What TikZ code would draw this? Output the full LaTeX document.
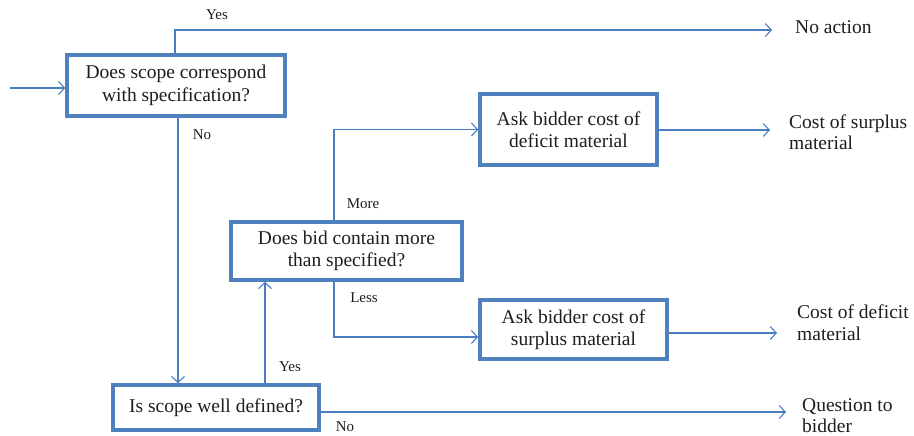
\documentclass[tikz,border=0pt]{standalone}
\usepackage{fontspec}
\setmainfont{Liberation Serif}
\usetikzlibrary{arrows.meta}
\definecolor{boxblue}{HTML}{4F81BD}
\definecolor{lineblue}{HTML}{4A7EC0}
\definecolor{ink}{HTML}{1E1E1E}
\begin{document}
\begin{tikzpicture}[x=1pt,y=-1pt,
  decision/.style={draw=boxblue,line width=3.6pt,fill=white,rectangle,
    inner sep=0pt,align=center,text=ink,
    font=\fontsize{19.5}{22.5}\selectfont},
  flow/.style={draw=lineblue,line width=1.1pt,
    -{Straight Barb[length=6pt,width=13pt,line width=1.1pt]}},
  tag/.style={text=ink,font=\fontsize{15}{17}\selectfont,inner sep=0pt},
  outcome/.style={text=ink,font=\fontsize{19.5}{21.5}\selectfont,
    align=left,anchor=west,inner sep=0pt}]
\useasboundingbox (0,0) rectangle (914,436);

% decision boxes
\node[decision,minimum width=218pt,minimum height=61pt] (scope) at (176,85.5)
  {Does scope correspond\\with specification?};
\node[decision,minimum width=206pt,minimum height=45pt] (defined) at (216,407.5)
  {Is scope well defined?};
\node[decision,minimum width=231pt,minimum height=58pt] (bid) at (346.5,251)
  {Does bid contain more\\than specified?};
\node[decision,minimum width=177pt,minimum height=71pt] (deficit) at (568.5,129.5)
  {Ask bidder cost of\\deficit material};
\node[decision,minimum width=187pt,minimum height=59pt] (surplus) at (573.5,329.5)
  {Ask bidder cost of\\surplus material};

% outcomes
\node[outcome] (noaction) at (795,27) {No action};
\node[outcome] (costsur) at (789,132) {Cost of surplus\\material};
\node[outcome] (costdef) at (797,322.5) {Cost of deficit\\material};
\node[outcome] (question) at (802,415.5) {Question to\\bidder};

% free ends of connectors
\coordinate (start) at (10,88);
\coordinate (yesend) at (772,30);
\coordinate (surend) at (770,130);
\coordinate (defend) at (777,333);
\coordinate (qend) at (786,412);
\coordinate (lessy) at (0,337);

% connectors
\draw[flow] (start) -- (start -| scope.west);
\draw[flow] ([xshift=-1pt]scope.north) |- (yesend);
\draw[flow] ([xshift=2pt]scope.south) -- ([xshift=2pt]scope.south |- defined.north);
\draw[flow] ([xshift=49pt]defined.north) -- ([xshift=49pt]defined.north |- bid.south);
\draw[flow] ([xshift=-12.5pt]bid.north) |- (deficit.west);
\draw[flow] ([xshift=-12.5pt]bid.south) |- (lessy -| surplus.west);
\draw[flow] (deficit.east |- surend) -- (surend);
\draw[flow] (defend -| surplus.east) -- (defend);
\draw[flow] (qend -| defined.east) -- (qend);

% branch labels
\node[tag] (tyes1) at (217,15) {Yes};
\node[tag] (tno1) at (202,135) {No};
\node[tag] (tmore) at (363,204) {More};
\node[tag] (tless) at (364,298) {Less};
\node[tag] (tyes2) at (290,367) {Yes};
\node[tag] (tno2) at (345,427) {No};
\end{tikzpicture}
\end{document}
